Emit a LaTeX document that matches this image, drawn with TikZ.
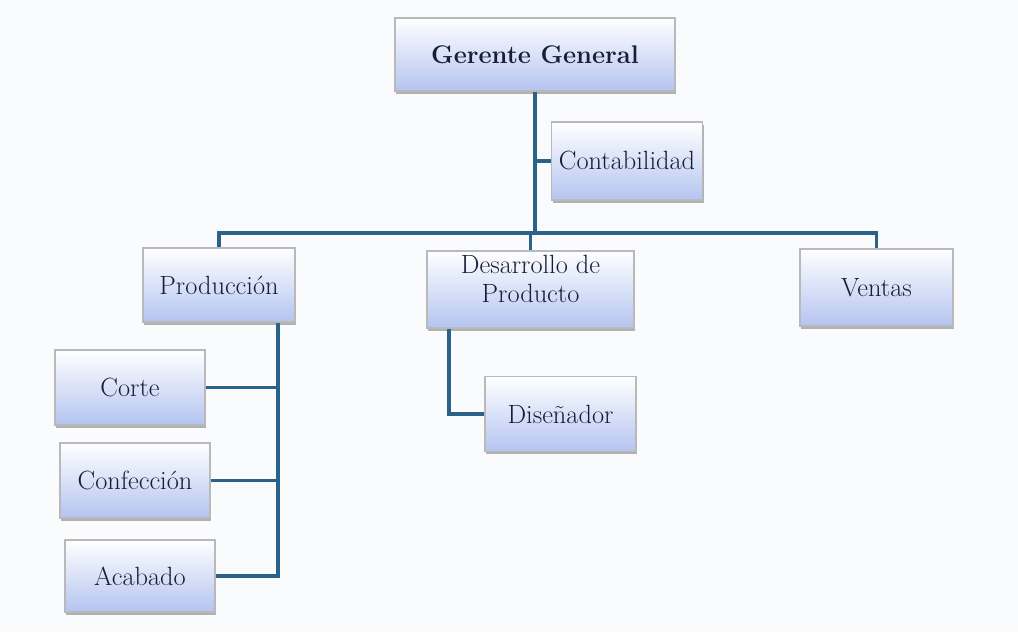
\documentclass[tikz,border=0pt]{standalone}
\usetikzlibrary{shadows}
\definecolor{linkblue}{RGB}{42,98,138}
\definecolor{boxblue}{RGB}{180,196,240}
\definecolor{textnavy}{RGB}{24,30,56}
\definecolor{paper}{RGB}{250,251,252}
\begin{document}
\begin{tikzpicture}[x=1cm,y=1cm,
  unitbox/.style={draw=gray!55, line width=0.6pt, top color=white, bottom color=boxblue,
    drop shadow={shadow xshift=0.6pt, shadow yshift=-1.6pt, opacity=0.6},
    text=textnavy, font=\fontsize{15}{16.5}\selectfont, align=center,
    minimum width=3.02cm, minimum height=1.5cm, inner sep=2pt},
  link/.style={draw=linkblue, line width=1.8pt}]
\fill[paper] (0,0) rectangle (20.36,12.64);
\useasboundingbox (0,0) rectangle (20.36,12.64);

\node[unitbox, minimum width=5.6cm, minimum height=1.46cm, font=\fontsize{14.5}{16}\selectfont\bfseries] (gg) at (10.7,11.55) {Gerente General};
\node[unitbox, minimum height=1.56cm] (conta) at (12.54,9.42) {Contabilidad};

\node[unitbox, minimum width=3.04cm, minimum height=1.48cm] (prod) at (4.38,6.94) {Producción};
\node[unitbox, minimum width=4.14cm, minimum height=1.54cm] (desa) at (10.61,6.85) {Desarrollo de\\Producto\\[-4pt]};
\node[unitbox, minimum width=3.06cm, minimum height=1.54cm] (ventas) at (17.53,6.89) {Ventas};

\node[unitbox] (disena) at (11.21,4.36) {Diseñador};
\node[unitbox, minimum width=3.0cm] (corte) at (2.6,4.89) {Corte};
\node[unitbox, minimum width=3.0cm] (confe) at (2.7,3.03) {Confección};
\node[unitbox, minimum width=3.0cm, minimum height=1.44cm] (acaba) at (2.8,1.12) {Acabado};

% lineas
\coordinate (bus) at (10.7,7.98);
\coordinate (pbus) at ([xshift=1.18cm]prod.south);
\coordinate (dbus) at ([xshift=-1.63cm]desa.south);

\draw[link] (gg.south) -- (bus);
\draw[link] (conta.west) -- (conta.west -| gg.south);
\draw[link] (prod.north) |- (bus) -| (ventas.north);
\draw[link] (desa.north |- bus) -- (desa.north);

\draw[link] (pbus) |- (acaba.east);
\draw[link] (corte.east) -- (corte.east -| pbus);
\draw[link] (confe.east) -- (confe.east -| pbus);

\draw[link] (dbus) |- (disena.west);
\end{tikzpicture}
\end{document}
